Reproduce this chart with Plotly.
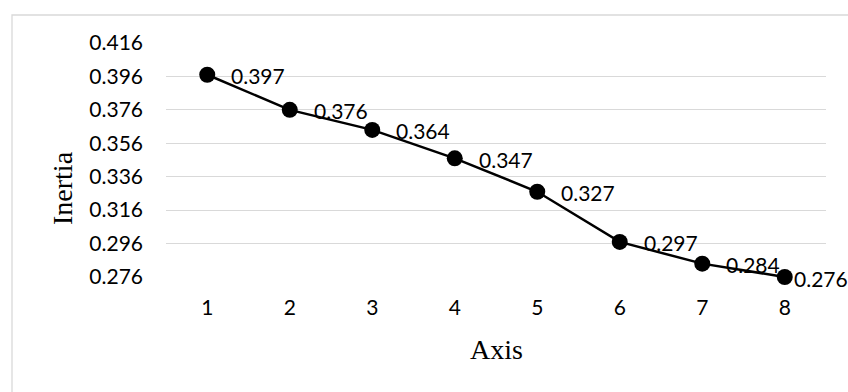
import plotly.graph_objects as go

# Inertia explained per axis
axes = [1, 2, 3, 4, 5, 6, 7, 8]
inertia = [0.397, 0.376, 0.364, 0.347, 0.327, 0.297, 0.284, 0.276]
y_ticks = [0.276, 0.296, 0.316, 0.336, 0.356, 0.376, 0.396, 0.416]

W, H = 848, 392
ML, MR, MT, MB = 166, 22, 43, 115
PW, PH = W - ML - MR, H - MT - MB


def px_to_paper_x(px):
    return (px - ML) / PW


def px_to_paper_y(py):
    return (H - MB - py) / PH


tick_font = dict(family="Lato, Calibri, Carlito, sans-serif", size=21, color="#000000")
title_font = dict(family="Palatino Linotype, Book Antiqua, Liberation Serif, serif", size=28, color="#000000")

fig = go.Figure()
fig.add_trace(go.Scatter(
    x=axes, y=inertia, mode="lines+markers",
    line=dict(color="#000000", width=2.5),
    marker=dict(color="#000000", size=16),
    cliponaxis=False, hoverinfo="skip", showlegend=False,
))

# value labels to the right of each point; the last one is pulled in to stay on the canvas
annotations = []
for i, (xv, yv) in enumerate(zip(axes, inertia)):
    shift = 22 if i < len(axes) - 1 else 7
    annotations.append(dict(
        x=xv, y=yv, xref="x", yref="y", text=f"{yv:.3f}", showarrow=False,
        xanchor="left", yanchor="middle", xshift=shift, yshift=-1,
        font=tick_font,
    ))

# axis titles
annotations.append(dict(
    x=0.5, y=px_to_paper_y(349), xref="paper", yref="paper", text="Axis",
    showarrow=False, xanchor="center", yanchor="middle", font=title_font,
))
annotations.append(dict(
    x=px_to_paper_x(62), y=px_to_paper_y(188), xref="paper", yref="paper", text="Inertia",
    showarrow=False, xanchor="center", yanchor="middle", textangle=-90, font=title_font,
))

# chart area outline
shapes = [dict(
    type="rect", xref="paper", yref="paper",
    x0=px_to_paper_x(12), x1=px_to_paper_x(W + 20),
    y0=px_to_paper_y(H + 20), y1=px_to_paper_y(15),
    line=dict(color="#d9d9d9", width=1.3), fillcolor="rgba(0,0,0,0)", layer="below",
)]

fig.update_layout(
    width=W, height=H,
    margin=dict(l=ML, r=MR, t=MT, b=MB, pad=0),
    paper_bgcolor="white", plot_bgcolor="white",
    annotations=annotations, shapes=shapes,
    xaxis=dict(
        range=[0.5, 8.5], tickmode="array", tickvals=axes, ticktext=[str(a) for a in axes],
        showgrid=False, zeroline=False, showline=False, ticks="",
        tickfont=tick_font, ticklabelstandoff=16,
    ),
    yaxis=dict(
        range=[y_ticks[0], y_ticks[-1]], tickmode="array", tickvals=y_ticks,
        ticktext=[f"{v:.3f}" for v in y_ticks],
        showgrid=True, gridcolor="#d9d9d9", gridwidth=1.3, zeroline=False, showline=False,
        ticks="", tickfont=tick_font, ticklabelstandoff=22,
    ),
)

fig.write_html("out.html")
